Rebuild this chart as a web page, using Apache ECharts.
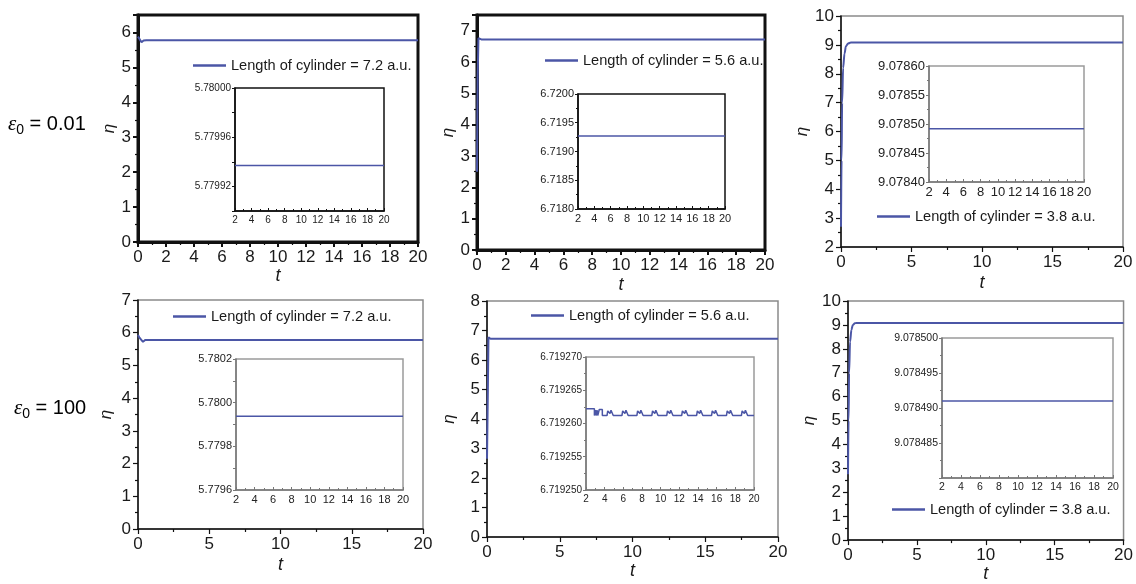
<!DOCTYPE html>
<html>
<head>
<meta charset="utf-8">
<script src="https://cdn.jsdelivr.net/npm/echarts@6/dist/echarts.min.js"></script>
<style>
  html, body { margin: 0; padding: 0; background: #fff; }
  #chart { width: 1136px; height: 584px; }
</style>
</head>
<body>
<div id="chart"></div>
<script>
// ---- η(t) curves, [t, η] ----
// ε0 = 0.01
const etaEps001L72 = [[0, 5.88], [0.1, 5.84], [0.25, 5.72], [0.4, 5.77], [0.6, 5.78], [20, 5.78]];
const etaEps001L56 = [[0, 2.5], [0.05, 5.6], [0.1, 6.76], [0.2, 6.78], [0.3, 6.72], [20, 6.72]];
const etaEps001L38 = [[0, 2.7], [0.04, 5.0], [0.08, 7.0], [0.15, 8.2], [0.25, 8.7], [0.35, 8.95], [0.5, 9.05], [0.7, 9.08], [20, 9.08]];
// ε0 = 100
const etaEps100L72 = [[0, 5.93], [0.1, 5.85], [0.15, 5.87], [0.35, 5.72], [0.5, 5.78], [20, 5.78]];
const etaEps100L56 = [[0, 2.65], [0.06, 5.0], [0.1, 6.77], [0.16, 6.78], [0.24, 6.72], [20, 6.72]];
const etaEps100L38 = [[0, 2.75], [0.04, 5.0], [0.08, 7.0], [0.15, 8.3], [0.25, 8.8], [0.35, 9.0], [0.5, 9.07], [0.6, 9.08], [20, 9.08]];

// ---- long-time detail (t = 2 … 20) ----
const zoomEps001L72 = [[2, 5.779937], [20, 5.779937]];
const zoomEps001L56 = [[2, 6.719270], [20, 6.719270]];
const zoomEps001L38 = [[2, 9.078492], [20, 9.078492]];
const zoomEps100L72 = [[2, 5.779938], [20, 5.779938]];
const zoomEps100L56 = [
  [2.0, 6.7192622], [2.9, 6.7192622], [2.9, 6.7192612], [3.0, 6.7192612], [3.0, 6.7192620],
  [3.08, 6.7192620], [3.08, 6.7192612], [3.18, 6.7192612], [3.18, 6.7192620], [3.26, 6.7192620],
  [3.26, 6.7192612], [3.42, 6.7192612], [3.42, 6.7192621], [3.75, 6.7192621], [3.75, 6.7192612],
  [4.25, 6.7192612], [4.33, 6.7192619], [4.45, 6.7192620], [4.57, 6.7192615], [4.68, 6.7192620], [4.82, 6.7192619], [4.92, 6.7192612],
  [5.85, 6.7192612], [5.93, 6.7192619], [6.05, 6.7192620], [6.17, 6.7192615], [6.28, 6.7192620], [6.42, 6.7192619], [6.52, 6.7192612],
  [7.45, 6.7192612], [7.53, 6.7192619], [7.65, 6.7192620], [7.77, 6.7192615], [7.88, 6.7192620], [8.02, 6.7192619], [8.12, 6.7192612],
  [9.05, 6.7192612], [9.13, 6.7192619], [9.25, 6.7192620], [9.37, 6.7192615], [9.48, 6.7192620], [9.62, 6.7192619], [9.72, 6.7192612],
  [10.65, 6.7192612], [10.73, 6.7192619], [10.85, 6.7192620], [10.97, 6.7192615], [11.08, 6.7192620], [11.22, 6.7192619], [11.32, 6.7192612],
  [12.25, 6.7192612], [12.33, 6.7192619], [12.45, 6.7192620], [12.57, 6.7192615], [12.68, 6.7192620], [12.82, 6.7192619], [12.92, 6.7192612],
  [13.85, 6.7192612], [13.93, 6.7192619], [14.05, 6.7192620], [14.17, 6.7192615], [14.28, 6.7192620], [14.42, 6.7192619], [14.52, 6.7192612],
  [15.45, 6.7192612], [15.53, 6.7192619], [15.65, 6.7192620], [15.77, 6.7192615], [15.88, 6.7192620], [16.02, 6.7192619], [16.12, 6.7192612],
  [17.05, 6.7192612], [17.13, 6.7192619], [17.25, 6.7192620], [17.37, 6.7192615], [17.48, 6.7192620], [17.62, 6.7192619], [17.72, 6.7192612],
  [18.65, 6.7192612], [18.73, 6.7192619], [18.85, 6.7192620], [18.97, 6.7192615], [19.08, 6.7192620], [19.22, 6.7192619], [19.32, 6.7192612],
  [20.0, 6.7192612]
];
const zoomEps100L38 = [[2, 9.078491], [20, 9.078491]];

// ---- legend texts ----
const nameL72 = 'Length of cylinder = 7.2 a.u.';
const nameL56 = 'Length of cylinder = 5.6 a.u.';
const nameL38 = 'Length of cylinder = 3.8 a.u.';

// ---- tick labels of the detail plots ----
const ticksZoom001L72 = ['5.77992', '5.77996', '5.78000'];
const ticksZoom001L56 = ['6.7180', '6.7185', '6.7190', '6.7195', '6.7200'];
const ticksZoom001L38 = ['9.07840', '9.07845', '9.07850', '9.07855', '9.07860'];
const ticksZoom100L72 = ['5.7796', '5.7798', '5.7800', '5.7802'];
const ticksZoom100L56 = ['6.719250', '6.719255', '6.719260', '6.719265', '6.719270'];
const ticksZoom100L38 = ['9.078485', '9.078490', '9.078495', '9.078500'];
const ticksZoomT = ['2', '4', '6', '8', '10', '12', '14', '16', '18', '20'];

// ---- panel-row labels ----
const rowLabels = ['0.01', '100'];

const FONT = 'Liberation Sans, Arial, sans-serif';
const LINE = '#4b56a6';

const grids = [], xAxes = [], yAxes = [], series = [], legends = [];

function fromList(list) {
  return function (v) {
    const hit = list.find(s => Math.abs(parseFloat(s) - v) < 1e-9);
    return hit === undefined ? '' : hit;
  };
}

// main η(t) panel
function addMain(p) {
  const i = grids.length;
  const heavy = p.heavy;
  const axisCol = '#111';
  grids.push({
    left: p.box[0], top: p.box[1], width: p.box[2], height: p.box[3],
    show: true, backgroundColor: '#fff',
    borderColor: heavy ? '#111' : '#8a8a8a', borderWidth: heavy ? 3 : 1.5
  });
  const axisLine = { show: true, lineStyle: { color: axisCol, width: heavy ? 3 : 1.5 } };
  xAxes.push({
    gridIndex: i, type: 'value', min: p.x[0], max: p.x[1], interval: p.x[2],
    axisLine, splitLine: { show: false },
    axisTick: { show: true, length: 5, lineStyle: { color: axisCol, width: heavy ? 2 : 1.2 } },
    minorTick: { show: true, splitNumber: 2, length: 3, lineStyle: { color: axisCol, width: 1.2 } },
    axisLabel: { fontSize: 17, color: '#1a1a1a', fontFamily: FONT, margin: 7 },
    name: 't', nameLocation: 'middle', nameGap: p.tGap,
    nameTextStyle: { fontSize: 18, fontStyle: 'italic', fontFamily: FONT, color: '#1a1a1a' }
  });
  yAxes.push({
    gridIndex: i, type: 'value', min: p.y[0], max: p.y[1], interval: p.y[2],
    axisLine, splitLine: { show: false },
    axisTick: { show: true, length: 5, lineStyle: { color: axisCol, width: heavy ? 2 : 1.2 } },
    minorTick: { show: true, splitNumber: 2, length: 3, lineStyle: { color: axisCol, width: 1.2 } },
    axisLabel: { fontSize: 17, color: '#1a1a1a', fontFamily: FONT, margin: 7, showMaxLabel: p.showMax },
    name: 'η', nameLocation: 'middle', nameGap: p.etaGap,
    nameTextStyle: { fontSize: 17, fontStyle: 'italic', fontFamily: FONT, color: '#1a1a1a' }
  });
  series.push({
    type: 'line', name: p.name, xAxisIndex: i, yAxisIndex: i, data: p.data,
    symbol: 'none', smooth: p.smooth ? 0.35 : false, smoothMonotone: 'x',
    lineStyle: { color: LINE, width: 2 }, itemStyle: { color: LINE }, z: 3
  });
  legends.push({
    show: true, data: [p.name], left: p.legend[0], top: p.legend[1] - 9,
    icon: 'rect', itemWidth: 33, itemHeight: 2.5, padding: 0, selectedMode: false,
    textStyle: { fontSize: 14.6, fontFamily: FONT, color: '#1a1a1a' }
  });
}

// long-time detail panel
function addDetail(p) {
  const i = grids.length;
  const dark = p.dark;
  const axisCol = dark ? '#111' : '#777';
  grids.push({
    left: p.box[0], top: p.box[1], width: p.box[2], height: p.box[3],
    show: true, backgroundColor: '#fff', z: 4,
    borderColor: dark ? '#111' : '#9a9a9a', borderWidth: 1.5
  });
  const axisLine = { show: true, lineStyle: { color: axisCol, width: 1.5 } };
  xAxes.push({
    gridIndex: i, type: 'value', min: 2, max: 20, interval: 2, z: 4,
    axisLine, splitLine: { show: false },
    axisTick: { show: true, inside: true, length: 3, lineStyle: { color: axisCol } },
    minorTick: { show: true, splitNumber: 2, length: 2, lineStyle: { color: axisCol } },
    axisLabel: { fontSize: p.font, color: '#222', fontFamily: FONT, margin: 4, formatter: fromList(ticksZoomT) }
  });
  yAxes.push({
    gridIndex: i, type: 'value', min: p.y[0], max: p.y[1], interval: p.y[2], z: 4,
    axisLine, splitLine: { show: false },
    axisTick: { show: true, length: 3, lineStyle: { color: axisCol } },
    minorTick: { show: p.minor, splitNumber: 2, length: 2, lineStyle: { color: axisCol } },
    axisLabel: { fontSize: p.font, color: '#222', fontFamily: FONT, margin: 4, formatter: fromList(p.labels) }
  });
  series.push({
    type: 'line', name: p.name, xAxisIndex: i, yAxisIndex: i, data: p.data,
    symbol: 'none', lineStyle: { color: LINE, width: 1.5 }, itemStyle: { color: LINE }, z: 5
  });
}

// ε0 = 0.01
addMain({ box: [138, 15, 280, 227], x: [0, 20, 2], y: [0, 6.5, 1], showMax: false, heavy: true,
  data: etaEps001L72, name: nameL72, legend: [193, 67], etaGap: 20, tGap: 22 });
addMain({ box: [477, 15, 288, 235], x: [0, 20, 2], y: [0, 7.5, 1], showMax: false, heavy: true,
  data: etaEps001L56, name: nameL56, legend: [545, 62], etaGap: 19, tGap: 26 });
addMain({ box: [841, 16, 282, 231], x: [0, 20, 5], y: [2, 10, 1], showMax: true, heavy: false, smooth: true,
  data: etaEps001L38, name: nameL38, legend: [877, 218], etaGap: 24, tGap: 27 });
// ε0 = 100
addMain({ box: [138, 300, 285, 229], x: [0, 20, 5], y: [0, 7, 1], showMax: true, heavy: false,
  data: etaEps100L72, name: nameL72, legend: [173, 318], etaGap: 23, tGap: 27 });
addMain({ box: [487, 301, 291, 236], x: [0, 20, 5], y: [0, 8, 1], showMax: true, heavy: false,
  data: etaEps100L56, name: nameL56, legend: [531, 317], etaGap: 29, tGap: 24 });
addMain({ box: [848, 301, 277, 242], x: [0, 20, 5], y: [0, 10, 1], showMax: true, heavy: false, smooth: true,
  data: etaEps100L38, name: nameL38, legend: [892, 511], etaGap: 30, tGap: 21 });

addDetail({ box: [235, 88, 149, 123], y: [5.7799, 5.78, 0.00002], labels: ticksZoom001L72, font: 10,
  dark: true, minor: false, data: zoomEps001L72, name: 'detail-1' });
addDetail({ box: [578, 94, 147, 115], y: [6.718, 6.72, 0.0005], labels: ticksZoom001L56, font: 11,
  dark: true, minor: true, data: zoomEps001L56, name: 'detail-2' });
addDetail({ box: [929, 66, 155, 116], y: [9.0784, 9.0786, 0.00005], labels: ticksZoom001L38, font: 13,
  dark: false, minor: true, data: zoomEps001L38, name: 'detail-3' });
addDetail({ box: [236, 359, 167, 131], y: [5.7796, 5.7802, 0.0001], labels: ticksZoom100L72, font: 11,
  dark: false, minor: false, data: zoomEps100L72, name: 'detail-4' });
addDetail({ box: [586, 357, 168, 133], y: [6.71925, 6.71927, 0.000005], labels: ticksZoom100L56, font: 10,
  dark: false, minor: true, data: zoomEps100L56, name: 'detail-5' });
addDetail({ box: [942, 338, 171, 140], y: [9.07848, 9.0785, 0.000005], labels: ticksZoom100L38, font: 10.5,
  dark: false, minor: true, data: zoomEps100L38, name: 'detail-6' });

const rowRich = {
  e: { fontSize: 21, lineHeight: 26, fontStyle: 'italic', fontFamily: 'Liberation Serif, serif', color: '#111' },
  s: { fontSize: 14, lineHeight: 14, fontFamily: FONT, color: '#111', verticalAlign: 'bottom' },
  n: { fontSize: 20, lineHeight: 26, fontFamily: FONT, color: '#111' }
};

const chart = echarts.init(document.getElementById('chart'), null, { renderer: 'canvas' });
chart.setOption({
  animation: false,
  backgroundColor: '#fff',
  grid: grids,
  xAxis: xAxes,
  yAxis: yAxes,
  legend: legends,
  series: series,
  graphic: [
    { type: 'text', left: 8, top: 114, style: { text: '{e|ε}{s|0}{n| = ' + rowLabels[0] + '}', rich: rowRich } },
    { type: 'text', left: 14, top: 398, style: { text: '{e|ε}{s|0}{n| = ' + rowLabels[1] + '}', rich: rowRich } }
  ]
});
</script>
</body>
</html>
